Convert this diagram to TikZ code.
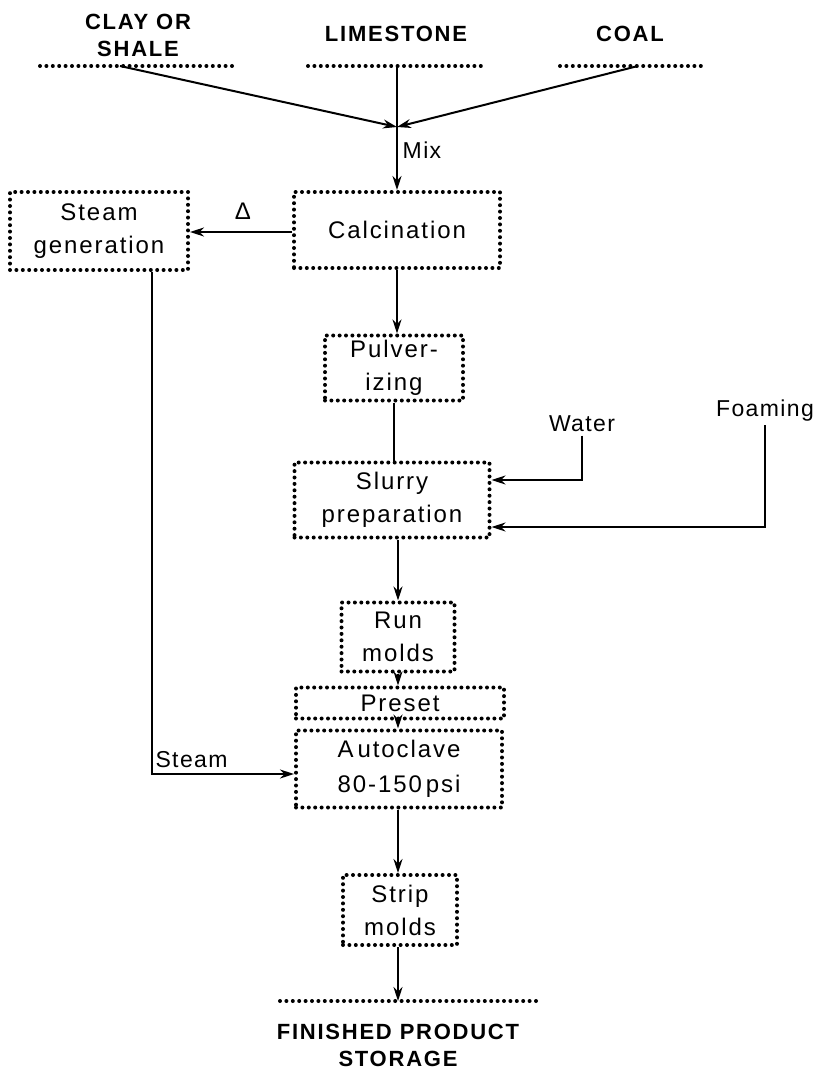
\documentclass[tikz,border=0pt]{standalone}
\usepackage{fontspec}
\setmainfont{Liberation Sans}
\usetikzlibrary{arrows.meta,calc}
\begin{document}
\begin{tikzpicture}[x=1pt,y=-1pt,
  dotbox/.style={draw,dash pattern=on 0pt off 6.4pt,line cap=round,line width=4pt,
     inner sep=0pt,align=center,font=\fontsize{24}{33}\selectfont\addfontfeatures{LetterSpace=8}},
  dotline/.style={dash pattern=on 0pt off 6.4pt,line cap=round,line width=4pt},
  flow/.style={line width=2pt,-{Stealth[length=14pt,width=9pt]}},
  plain/.style={line width=2pt},
  head/.style={font=\fontsize{22}{27}\selectfont\bfseries\addfontfeatures{LetterSpace=8},align=center},
  lab/.style={font=\fontsize{23}{26}\selectfont\addfontfeatures{LetterSpace=6}}]
\useasboundingbox (0,0) rectangle (822,1070);
% sources
\node[head] (clay) at (138,35) {CLAY OR\\SHALE};
\node[head] (lime) at (396,34) {LIMESTONE};
\node[head] (coal) at (630,34) {COAL};
\draw[dotline] (40,66) -- (232,66);
\draw[dotline] (308,66) -- (482,66);
\draw[dotline] (560,66) -- (705,66);
\coordinate (clayp) at (120,66);
\coordinate (limep) at (397,66);
\coordinate (coalp) at (638,66);
\coordinate (mix) at (397,127);
% boxes
\node[dotbox,minimum width=206pt,minimum height=76pt] (calc) at (397,230) {Calcination};
\node[dotbox,minimum width=178pt,minimum height=78pt] (sg) at (99,231) {Steam\\generation};
\node[dotbox,minimum width=138pt,minimum height=65pt] (pulv) at (394,368) {Pulver-\\izing};
\node[dotbox,minimum width=195pt,minimum height=75pt] (slurry) at (392,500) {Slurry\\preparation};
\node[dotbox,minimum width=113pt,minimum height=69pt] (run) at (398,637) {Run\\molds};
\node[dotbox,minimum width=208pt,minimum height=31pt] (preset) at (400,703) {Preset};
\node[dotbox,minimum width=206pt,minimum height=77pt,font=\fontsize{24}{35}\selectfont\addfontfeatures{LetterSpace=8}] (auto) at (399,769) {A\,utoclave\\80-150\,psi};
\node[dotbox,minimum width=114pt,minimum height=70pt] (strip) at (400,910) {Strip\\molds};
% storage
\draw[dotline] (280,1001) -- (537,1001);
\coordinate (stor) at (398,1001);
\node[head] (fin) at (398,1045) {FINISHED PRODUCT\\STORAGE};
% labels
\node[lab] (mixl) at (422,150) {Mix};
\node[lab,font=\fontsize{24}{26}\selectfont] (delta) at (243,211) {Δ};
\node[lab] (water) at (582,424) {Water};
\node[lab] (foam) at (765,411) {Foaming};
\node[lab,anchor=west] (steaml) at (152,760) {Steam};
% connectors
\draw[flow] (clayp) -- (mix);
\draw[flow] (coalp) -- (mix);
\draw[flow] (limep) -- (calc.north);
\draw[flow] (calc.west |- 0,232) -- (sg.east |- 0,232);
\draw[flow] (calc.south) -- (pulv.north -| calc.south);
\draw[plain] (pulv.south) -- (slurry.north -| pulv.south);
\draw[flow] (water.south) -- (water.south |- 0,480) -- (slurry.east |- 0,480);
\draw[flow] (foam.south) -- (foam.south |- 0,527) -- (slurry.east |- 0,527);
\draw[flow] (slurry.south -| run.north) -- (run.north);
\draw[flow] (run.south) -- (preset.north -| run.south);
\draw[flow] (preset.south -| run.south) -- (auto.north -| run.south);
\draw[flow] (sg.south -| 152,0) -- (152,774) -- (auto.west |- 0,774);
\draw[flow] (auto.south -| 398,0) -- (strip.north -| 398,0);
\draw[flow] (strip.south -| 398,0) -- (stor);
\end{tikzpicture}
\end{document}
